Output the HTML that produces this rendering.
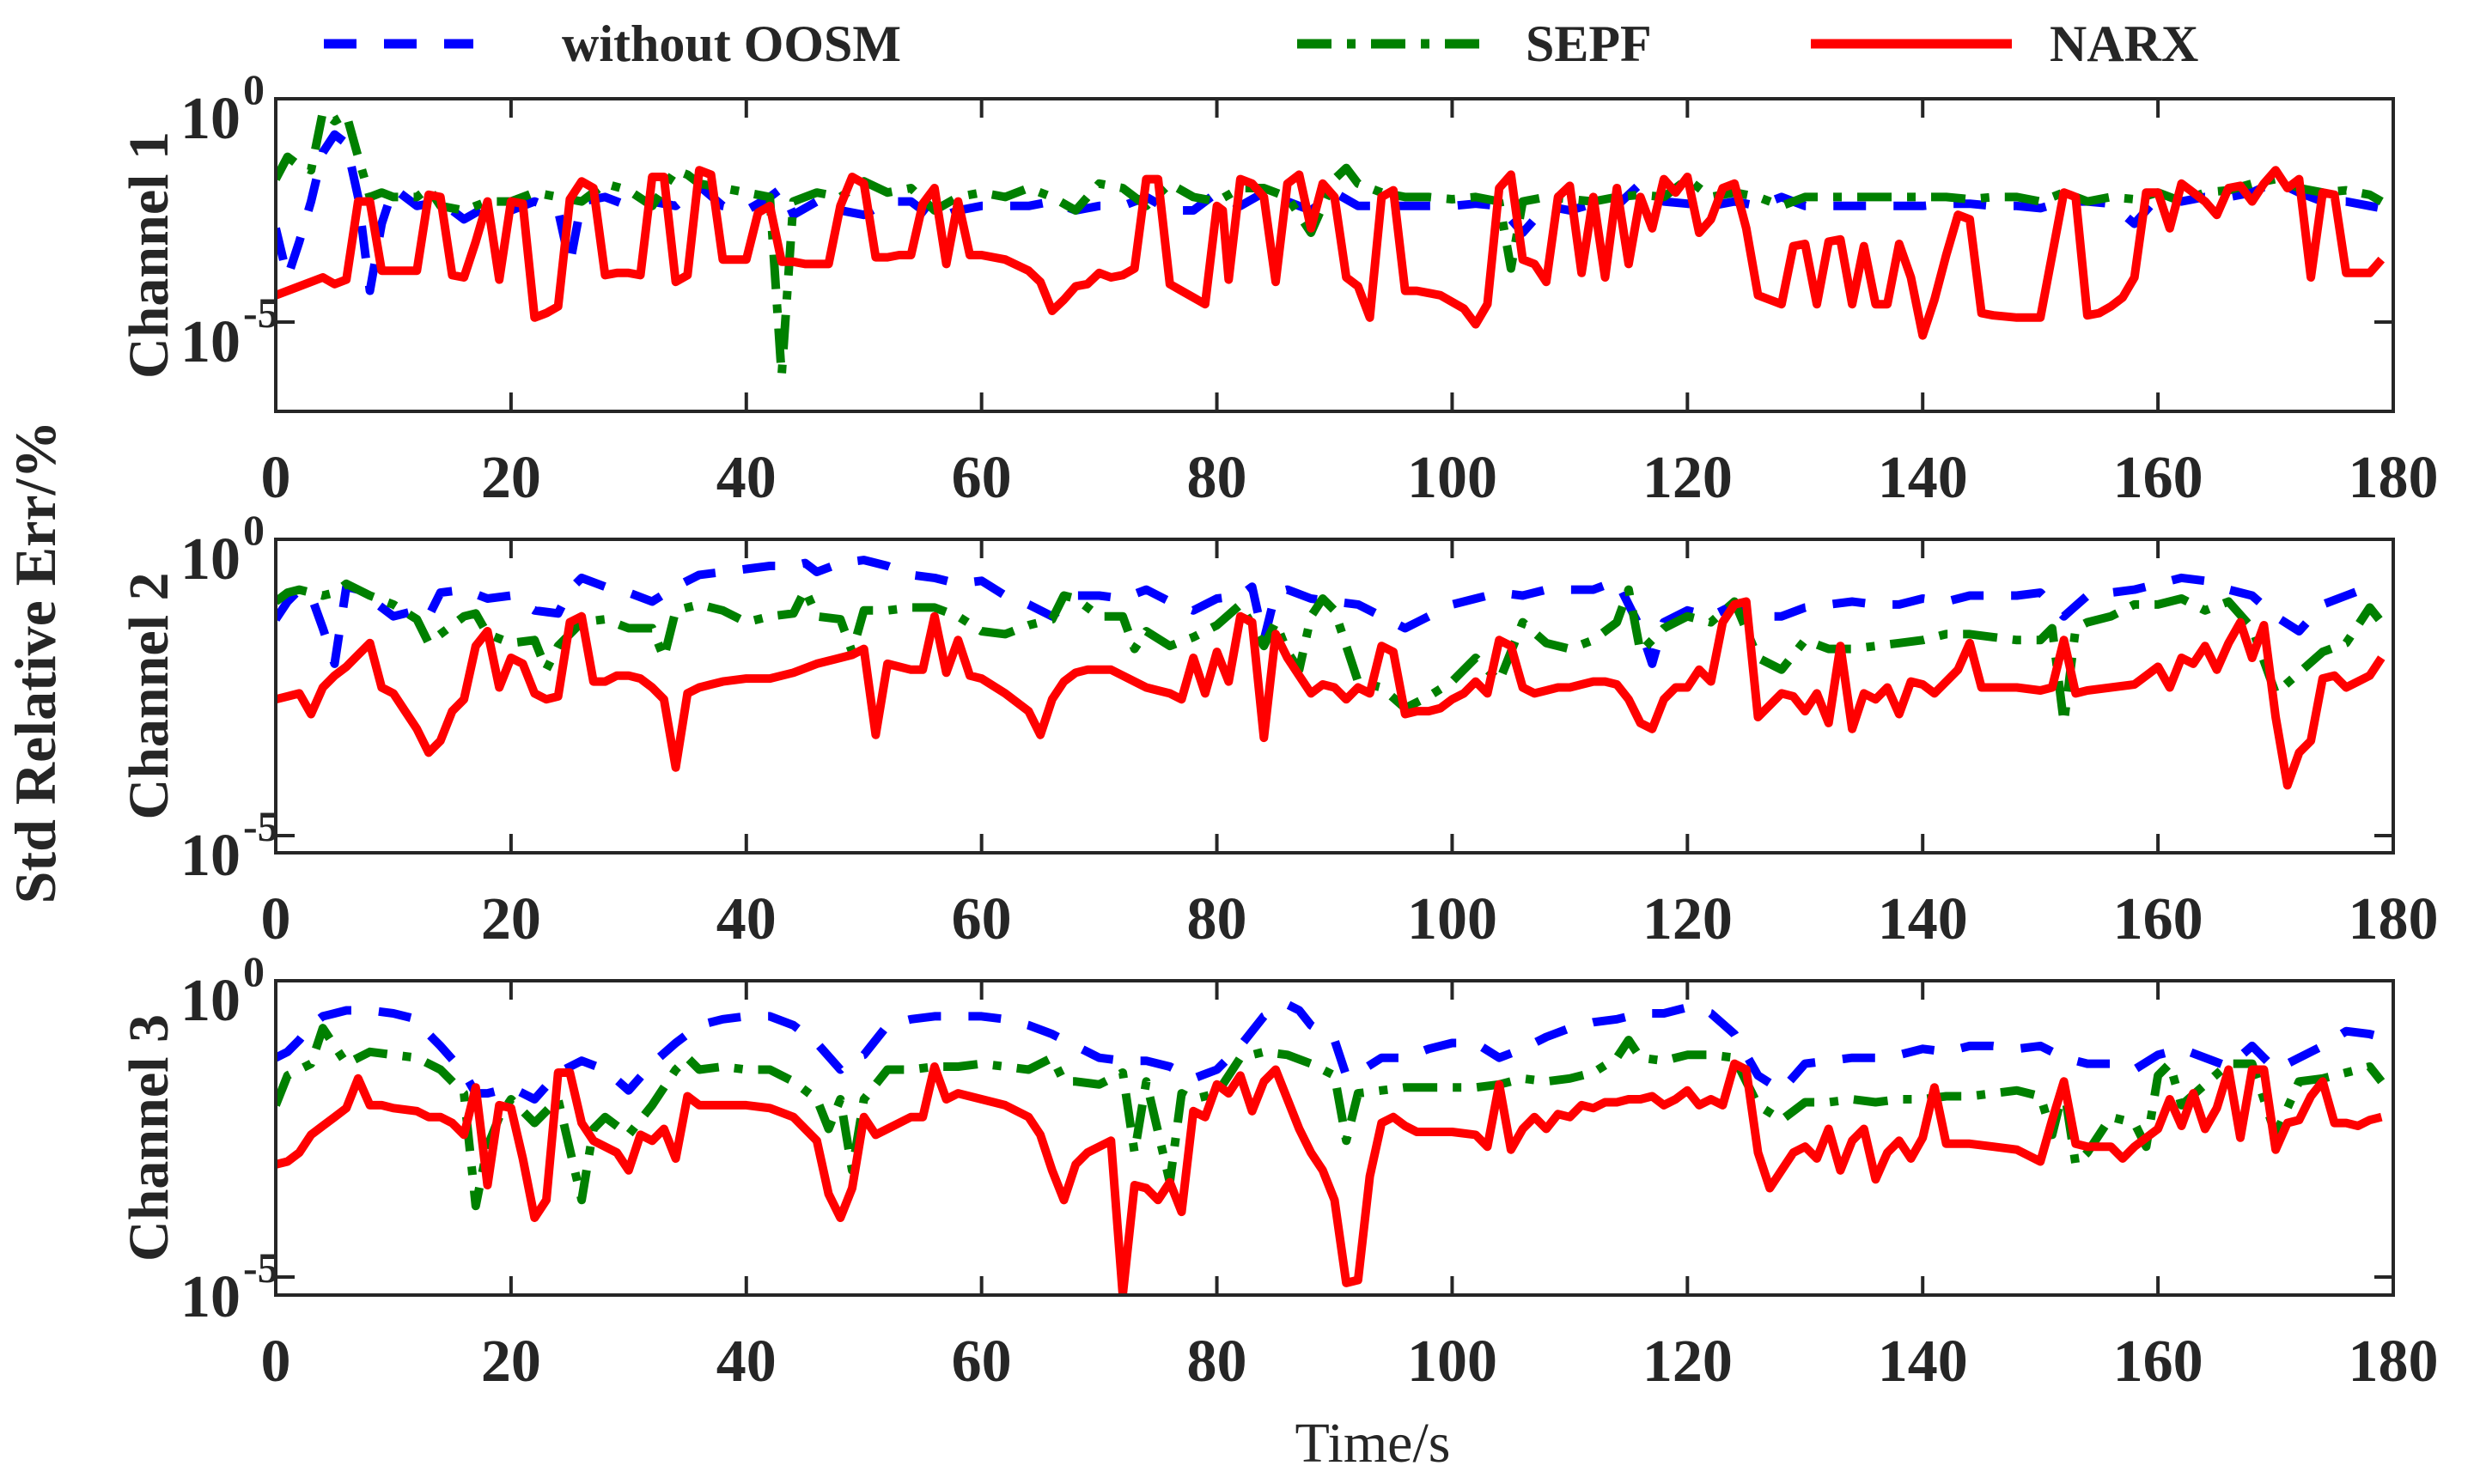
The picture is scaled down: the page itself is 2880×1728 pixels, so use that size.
<!DOCTYPE html>
<html><head><meta charset="utf-8"><style>
html,body{margin:0;padding:0;background:#fff;}
svg{display:block;font-family:"Liberation Serif",serif;}
</style></head><body>
<svg id="chart" xmlns="http://www.w3.org/2000/svg" width="2880" height="1728" viewBox="0 0 2880 1728">
<rect width="2880" height="1728" fill="#fff"/>
<g id="legend">
 <g>
  <line x1="377" y1="51" x2="551" y2="51" stroke="#0000ff" stroke-width="11" stroke-dasharray="38,32"/>
  <text x="654" y="71" font-size="60" font-weight="bold" fill="#262626">without OOSM</text>
 </g>
 <g>
  <line x1="1510" y1="51" x2="1736" y2="51" stroke="#008000" stroke-width="11" stroke-dasharray="40,18,10,18"/>
  <text x="1776" y="71" font-size="60" font-weight="bold" fill="#262626">SEPF</text>
 </g>
 <g>
  <line x1="2108" y1="51" x2="2342" y2="51" stroke="#ff0000" stroke-width="11"/>
  <text x="2386" y="71" font-size="60" font-weight="bold" fill="#262626">NARX</text>
 </g>
</g>
<text transform="translate(64,771) rotate(-90)" text-anchor="middle" font-size="68" font-weight="bold" fill="#262626">Std Relative Err/%</text>
<text x="1598" y="1702" text-anchor="middle" font-size="66" fill="#262626">Time/s</text>
<g id="panels"></g>
</svg>
<script>
// ---- data: [time (s), log10(value)] ----
const xTicks = [0,20,40,60,80,100,120,140,160,180];
const yTickExps = [0,-5];
const channelNames = ["Channel 1","Channel 2","Channel 3"];
const ch1Narx = [[0,-4.4],[2,-4.2],[4,-4.0],[5,-4.15],[6,-4.05],[7,-2.3],[8,-2.3],[9,-3.85],[12,-3.85],[13,-2.15],[14,-2.2],[15,-3.95],[16,-4.0],[17,-3.2],[18,-2.3],[19,-4.05],[20,-2.3],[21,-2.35],[22,-4.9],[23,-4.8],[24,-4.65],[25,-2.25],[26,-1.85],[27,-2.0],[28,-3.95],[29,-3.9],[30,-3.9],[31,-3.95],[32,-1.75],[33,-1.75],[34,-4.1],[35,-3.95],[36,-1.6],[37,-1.7],[38,-3.6],[39,-3.6],[40,-3.6],[41,-2.55],[42,-2.4],[43,-3.65],[44,-3.65],[45,-3.7],[47,-3.7],[48,-2.4],[49,-1.75],[50,-1.9],[51,-3.55],[52,-3.55],[53,-3.5],[54,-3.5],[55,-2.35],[56,-2.0],[57,-3.7],[58,-2.3],[59,-3.5],[60,-3.5],[62,-3.6],[64,-3.85],[65,-4.1],[66,-4.75],[67,-4.5],[68,-4.2],[69,-4.15],[70,-3.9],[71,-4.0],[72,-3.95],[73,-3.8],[74,-1.8],[75,-1.8],[76,-4.15],[77,-4.3],[78,-4.45],[79,-4.6],[80,-2.4],[80.5,-2.5],[81,-4.05],[82,-1.8],[83,-1.9],[84,-2.2],[85,-4.1],[86,-1.9],[87,-1.7],[88,-2.9],[89,-1.9],[90,-2.2],[91,-4.0],[92,-4.2],[93,-4.9],[94,-2.2],[95,-2.05],[96,-4.3],[97,-4.3],[98,-4.35],[99,-4.4],[100,-4.55],[101,-4.7],[102,-5.05],[103,-4.6],[104,-2.0],[105,-1.7],[106,-3.6],[107,-3.7],[108,-4.1],[109,-2.2],[110,-1.95],[111,-3.9],[112,-2.2],[113,-4.0],[114,-2.0],[115,-3.7],[116,-2.2],[117,-2.9],[118,-1.8],[119,-2.1],[120,-1.75],[121,-3.0],[122,-2.7],[123,-2.0],[124,-1.9],[125,-2.9],[126,-4.4],[127,-4.5],[128,-4.6],[129,-3.3],[130,-3.25],[131,-4.6],[132,-3.2],[133,-3.15],[134,-4.6],[135,-3.3],[136,-4.6],[137,-4.6],[138,-3.25],[139,-4.0],[140,-5.3],[141,-4.5],[142,-3.5],[143,-2.6],[144,-2.7],[145,-4.8],[146,-4.85],[148,-4.9],[150,-4.9],[151,-3.5],[152,-2.1],[153,-2.2],[154,-4.85],[155,-4.8],[156,-4.65],[157,-4.45],[158,-4.0],[159,-2.1],[160,-2.1],[161,-2.9],[162,-1.9],[163,-2.1],[164,-2.3],[165,-2.6],[166,-2.0],[167,-1.95],[168,-2.3],[169,-1.9],[170,-1.6],[171,-2.0],[172,-1.8],[173,-4.0],[174,-2.1],[175,-2.15],[176,-3.9],[177,-3.9],[178,-3.9],[179,-3.6]];
const ch1Base = [[0,-2.9],[1,-4.0],[2,-3.2],[3,-2.3],[4,-1.2],[5,-0.8],[6,-1.0],[7,-2.2],[8,-4.3],[9,-2.8],[10,-2.0],[11,-2.2],[12,-2.4],[14,-2.3],[16,-2.7],[18,-2.4],[20,-2.5],[22,-2.3],[24,-2.5],[25,-3.7],[26,-2.3],[28,-2.2],[30,-2.4],[32,-2.3],[34,-2.4],[36,-1.95],[38,-2.4],[40,-2.5],[42,-2.2],[43,-2.0],[44,-2.6],[46,-2.3],[48,-2.5],[50,-2.6],[52,-2.3],[54,-2.3],[56,-2.7],[58,-2.5],[60,-2.4],[62,-2.4],[64,-2.4],[66,-2.3],[68,-2.5],[70,-2.4],[72,-2.4],[74,-2.2],[76,-2.5],[78,-2.5],[80,-2.1],[82,-2.4],[84,-2.1],[86,-2.3],[88,-2.5],[90,-2.1],[92,-2.4],[94,-2.4],[96,-2.4],[98,-2.4],[100,-2.4],[102,-2.35],[104,-2.4],[106,-3.0],[108,-2.4],[110,-2.5],[112,-2.35],[114,-2.4],[116,-1.9],[118,-2.3],[120,-2.35],[122,-2.4],[124,-2.3],[126,-2.4],[128,-2.2],[130,-2.4],[132,-2.4],[134,-2.4],[136,-2.4],[138,-2.4],[140,-2.4],[142,-2.35],[144,-2.35],[146,-2.4],[148,-2.4],[150,-2.45],[152,-2.3],[154,-2.3],[156,-2.35],[158,-2.8],[160,-2.2],[162,-2.3],[164,-2.2],[166,-2.2],[168,-2.1],[170,-1.85],[172,-2.1],[174,-2.3],[176,-2.3],[178,-2.4],[179,-2.45]];
const ch1Sepf = [[0,-1.8],[1,-1.3],[2,-1.5],[3,-1.6],[4,-0.3],[5,-0.5],[6,-0.35],[7,-1.3],[8,-2.2],[9,-2.1],[10,-2.2],[12,-2.2],[13,-2.0],[14,-2.4],[16,-2.5],[18,-2.3],[20,-2.3],[22,-2.1],[24,-2.2],[26,-2.3],[28,-1.9],[30,-2.05],[32,-2.4],[34,-1.6],[35,-1.7],[36,-1.9],[38,-2.0],[40,-2.1],[42,-2.2],[43,-6.2],[44,-2.3],[46,-2.1],[48,-2.2],[50,-1.85],[52,-2.1],[54,-2.0],[56,-2.5],[58,-2.2],[60,-2.1],[62,-2.2],[64,-2.0],[66,-2.2],[68,-2.5],[70,-1.9],[72,-2.0],[74,-2.4],[76,-1.9],[78,-2.2],[80,-2.3],[82,-2.0],[84,-2.0],[86,-2.2],[88,-3.0],[90,-1.8],[91,-1.55],[92,-1.9],[94,-2.1],[96,-2.2],[98,-2.2],[100,-2.25],[102,-2.2],[104,-2.3],[105,-3.8],[106,-2.3],[108,-2.2],[110,-2.25],[112,-2.3],[114,-2.2],[116,-2.15],[118,-2.2],[120,-1.8],[122,-2.2],[124,-2.1],[126,-2.2],[128,-2.4],[130,-2.2],[132,-2.2],[134,-2.2],[136,-2.2],[138,-2.2],[140,-2.2],[142,-2.2],[144,-2.25],[146,-2.2],[148,-2.2],[150,-2.3],[152,-2.1],[154,-2.3],[156,-2.2],[158,-2.25],[160,-2.1],[162,-2.3],[164,-2.1],[166,-2.05],[168,-1.9],[170,-1.8],[172,-2.0],[174,-2.1],[176,-2.05],[178,-2.15],[179,-2.3]];
const ch2Narx = [[0,-2.7],[1,-2.65],[2,-2.6],[3,-2.95],[4,-2.5],[5,-2.3],[6,-2.15],[7,-1.95],[8,-1.75],[9,-2.5],[10,-2.6],[11,-2.9],[12,-3.2],[13,-3.6],[14,-3.4],[15,-2.9],[16,-2.7],[17,-1.8],[18,-1.55],[19,-2.5],[20,-2.0],[21,-2.1],[22,-2.6],[23,-2.7],[24,-2.65],[25,-1.4],[26,-1.3],[27,-2.4],[28,-2.4],[29,-2.3],[30,-2.3],[31,-2.35],[32,-2.5],[33,-2.7],[34,-3.85],[35,-2.6],[36,-2.5],[37,-2.45],[38,-2.4],[40,-2.35],[42,-2.35],[44,-2.25],[46,-2.1],[48,-2.0],[49,-1.95],[50,-1.85],[51,-3.3],[52,-2.1],[53,-2.15],[54,-2.2],[55,-2.2],[56,-1.3],[57,-2.25],[58,-1.7],[59,-2.3],[60,-2.35],[62,-2.6],[64,-2.9],[65,-3.3],[66,-2.7],[67,-2.4],[68,-2.25],[69,-2.2],[70,-2.2],[71,-2.2],[72,-2.3],[73,-2.4],[74,-2.5],[75,-2.55],[76,-2.6],[77,-2.7],[78,-2.0],[79,-2.6],[80,-1.9],[81,-2.4],[82,-1.3],[83,-1.4],[84,-3.35],[85,-1.6],[86,-2.0],[87,-2.3],[88,-2.6],[89,-2.45],[90,-2.5],[91,-2.7],[92,-2.5],[93,-2.6],[94,-1.8],[95,-1.9],[96,-2.95],[97,-2.9],[98,-2.9],[99,-2.85],[100,-2.7],[101,-2.6],[102,-2.4],[103,-2.6],[104,-1.7],[105,-1.8],[106,-2.5],[107,-2.6],[108,-2.55],[109,-2.5],[110,-2.5],[111,-2.45],[112,-2.4],[113,-2.4],[114,-2.45],[115,-2.7],[116,-3.1],[117,-3.2],[118,-2.7],[119,-2.5],[120,-2.5],[121,-2.2],[122,-2.4],[123,-1.4],[124,-1.1],[125,-1.05],[126,-3.0],[127,-2.8],[128,-2.6],[129,-2.65],[130,-2.9],[131,-2.6],[132,-3.1],[133,-1.8],[134,-3.2],[135,-2.6],[136,-2.7],[137,-2.5],[138,-2.95],[139,-2.4],[140,-2.45],[141,-2.6],[142,-2.4],[143,-2.2],[144,-1.75],[145,-2.5],[146,-2.5],[148,-2.5],[150,-2.55],[151,-2.5],[152,-1.7],[153,-2.6],[154,-2.55],[156,-2.5],[158,-2.45],[159,-2.3],[160,-2.15],[161,-2.5],[162,-2.0],[163,-2.1],[164,-1.8],[165,-2.2],[166,-1.75],[167,-1.4],[168,-2.0],[169,-1.45],[170,-3.0],[171,-4.15],[172,-3.6],[173,-3.4],[174,-2.35],[175,-2.3],[176,-2.5],[177,-2.4],[178,-2.3],[179,-2.0]];
const ch2Base = [[0,-1.35],[1,-1.05],[2,-0.85],[3,-0.95],[4,-1.5],[5,-2.1],[6,-0.8],[7,-0.85],[8,-1.0],[10,-1.3],[12,-1.2],[13,-1.3],[14,-0.9],[16,-0.85],[18,-1.0],[20,-0.95],[22,-1.2],[24,-1.25],[25,-0.85],[26,-0.65],[28,-0.8],[30,-0.9],[32,-1.05],[34,-0.8],[36,-0.6],[38,-0.55],[40,-0.5],[42,-0.45],[44,-0.45],[45,-0.4],[46,-0.55],[48,-0.4],[50,-0.35],[52,-0.45],[54,-0.6],[56,-0.65],[58,-0.75],[60,-0.7],[62,-0.95],[64,-1.1],[66,-1.3],[68,-0.95],[70,-0.95],[72,-1.0],[74,-0.85],[76,-1.05],[78,-1.2],[80,-1.0],[82,-0.95],[83,-0.8],[84,-1.7],[85,-0.9],[86,-0.85],[88,-1.0],[90,-1.05],[92,-1.1],[94,-1.3],[96,-1.5],[98,-1.3],[100,-1.1],[102,-1.0],[104,-0.9],[106,-0.95],[108,-0.85],[110,-0.85],[112,-0.85],[114,-0.7],[116,-1.5],[117,-2.1],[118,-1.4],[120,-1.2],[122,-1.3],[124,-1.1],[126,-1.3],[128,-1.3],[130,-1.15],[132,-1.1],[134,-1.05],[136,-1.1],[138,-1.1],[140,-1.0],[142,-1.05],[144,-0.95],[146,-0.95],[148,-0.95],[150,-0.9],[152,-1.3],[154,-0.95],[156,-0.9],[158,-0.85],[160,-0.75],[162,-0.65],[164,-0.7],[166,-0.85],[168,-0.95],[170,-1.3],[172,-1.55],[174,-1.1],[176,-0.95],[178,-0.8],[179,-0.75]];
const ch2Sepf = [[0,-1.05],[1,-0.9],[2,-0.85],[4,-0.95],[5,-0.9],[6,-0.75],[8,-0.95],[10,-1.1],[12,-1.35],[13,-1.75],[14,-1.6],[16,-1.3],[17,-1.25],[18,-1.6],[20,-1.75],[22,-1.7],[23,-2.2],[24,-1.8],[26,-1.4],[28,-1.35],[30,-1.5],[32,-1.5],[33,-2.0],[34,-1.2],[36,-1.1],[38,-1.2],[40,-1.4],[42,-1.3],[44,-1.25],[45,-0.85],[46,-1.3],[48,-1.35],[49,-1.9],[50,-1.2],[52,-1.2],[54,-1.15],[56,-1.15],[58,-1.3],[60,-1.55],[62,-1.6],[64,-1.45],[66,-1.35],[67,-0.95],[68,-1.0],[70,-1.3],[72,-1.3],[73,-1.85],[74,-1.55],[76,-1.8],[78,-1.65],[80,-1.45],[82,-1.1],[84,-1.8],[85,-1.4],[86,-1.9],[87,-2.2],[88,-1.3],[89,-1.0],[90,-1.2],[92,-2.4],[94,-2.5],[96,-2.85],[98,-2.65],[100,-2.4],[102,-2.0],[104,-2.4],[106,-1.4],[108,-1.75],[110,-1.85],[112,-1.7],[114,-1.4],[115,-0.85],[116,-1.9],[118,-1.5],[120,-1.3],[122,-1.4],[124,-1.05],[126,-2.0],[128,-2.2],[130,-1.7],[132,-1.85],[134,-1.85],[136,-1.8],[138,-1.75],[140,-1.7],[142,-1.6],[144,-1.6],[146,-1.65],[148,-1.7],[150,-1.7],[151,-1.5],[152,-3.1],[153,-1.5],[154,-1.4],[156,-1.3],[158,-1.1],[160,-1.1],[162,-1.0],[164,-1.2],[166,-1.05],[168,-1.5],[170,-2.6],[172,-2.25],[174,-1.9],[176,-1.75],[178,-1.15],[179,-1.4]];
const ch3Narx = [[0,-3.1],[1,-3.05],[2,-2.9],[3,-2.6],[4,-2.45],[5,-2.3],[6,-2.15],[7,-1.65],[8,-2.1],[9,-2.1],[10,-2.15],[12,-2.2],[13,-2.3],[14,-2.3],[15,-2.4],[16,-2.6],[17,-1.8],[18,-3.45],[19,-2.1],[20,-2.15],[21,-3.0],[22,-4.0],[23,-3.7],[24,-1.55],[25,-1.55],[26,-2.4],[27,-2.7],[28,-2.8],[29,-2.9],[30,-3.2],[31,-2.6],[32,-2.7],[33,-2.5],[34,-3.0],[35,-1.95],[36,-2.1],[37,-2.1],[38,-2.1],[40,-2.1],[42,-2.15],[44,-2.3],[46,-2.7],[47,-3.6],[48,-4.0],[49,-3.5],[50,-2.3],[51,-2.6],[52,-2.5],[54,-2.3],[55,-2.3],[56,-1.45],[57,-2.0],[58,-1.9],[60,-2.0],[62,-2.1],[64,-2.3],[65,-2.6],[66,-3.2],[67,-3.7],[68,-3.1],[69,-2.9],[70,-2.8],[71,-2.7],[72,-5.3],[73,-3.45],[74,-3.5],[75,-3.7],[76,-3.4],[77,-3.9],[78,-2.2],[79,-2.3],[80,-1.75],[81,-1.9],[82,-1.6],[83,-2.2],[84,-1.7],[85,-1.5],[86,-2.0],[87,-2.5],[88,-2.9],[89,-3.2],[90,-3.7],[91,-5.1],[92,-5.05],[93,-3.3],[94,-2.4],[95,-2.3],[96,-2.45],[97,-2.55],[98,-2.55],[100,-2.55],[102,-2.6],[103,-2.8],[104,-1.75],[105,-2.85],[106,-2.5],[107,-2.3],[108,-2.5],[109,-2.25],[110,-2.3],[111,-2.1],[112,-2.15],[113,-2.05],[114,-2.05],[115,-2.0],[116,-2.0],[117,-1.95],[118,-2.1],[119,-2.0],[120,-1.85],[121,-2.1],[122,-2.0],[123,-2.1],[124,-1.4],[125,-1.5],[126,-2.9],[127,-3.5],[128,-3.2],[129,-2.9],[130,-2.8],[131,-3.0],[132,-2.5],[133,-3.2],[134,-2.7],[135,-2.5],[136,-3.35],[137,-2.9],[138,-2.7],[139,-3.0],[140,-2.65],[141,-1.8],[142,-2.75],[144,-2.75],[146,-2.8],[148,-2.85],[150,-3.05],[151,-2.35],[152,-1.7],[153,-2.75],[154,-2.8],[156,-2.8],[157,-3.0],[158,-2.8],[159,-2.65],[160,-2.5],[161,-2.0],[162,-2.45],[163,-1.9],[164,-2.5],[165,-2.15],[166,-1.5],[167,-2.65],[168,-1.5],[169,-1.5],[170,-2.85],[171,-2.4],[172,-2.35],[173,-1.95],[174,-1.7],[175,-2.4],[176,-2.4],[177,-2.45],[178,-2.35],[179,-2.3]];
const ch3Base = [[0,-1.3],[1,-1.2],[2,-1.0],[3,-0.75],[4,-0.6],[5,-0.55],[6,-0.5],[8,-0.5],[10,-0.55],[12,-0.65],[13,-0.9],[14,-1.1],[16,-1.55],[17,-1.9],[18,-1.9],[20,-1.8],[22,-2.0],[24,-1.55],[26,-1.35],[28,-1.5],[30,-1.85],[32,-1.4],[34,-1.05],[36,-0.75],[38,-0.65],[40,-0.6],[42,-0.6],[44,-0.75],[46,-1.05],[48,-1.5],[49,-1.3],[50,-1.25],[52,-0.75],[54,-0.65],[56,-0.6],[58,-0.6],[60,-0.6],[62,-0.65],[64,-0.75],[66,-0.9],[68,-1.1],[70,-1.3],[72,-1.35],[74,-1.35],[76,-1.45],[78,-1.65],[80,-1.5],[82,-1.1],[84,-0.6],[86,-0.4],[87,-0.5],[88,-0.75],[90,-1.0],[91,-1.6],[92,-1.55],[94,-1.3],[96,-1.3],[98,-1.15],[100,-1.05],[102,-1.05],[104,-1.3],[106,-1.15],[108,-0.95],[110,-0.8],[112,-0.7],[114,-0.65],[116,-0.55],[118,-0.55],[120,-0.45],[122,-0.55],[124,-0.9],[126,-1.6],[128,-1.85],[130,-1.4],[132,-1.35],[134,-1.3],[136,-1.3],[138,-1.25],[140,-1.15],[142,-1.2],[144,-1.1],[146,-1.1],[148,-1.15],[150,-1.1],[152,-1.3],[154,-1.4],[156,-1.4],[158,-1.5],[160,-1.25],[162,-1.15],[164,-1.3],[166,-1.45],[168,-1.1],[170,-1.5],[172,-1.3],[174,-1.1],[176,-0.85],[178,-0.9],[179,-0.95]];
const ch3Sepf = [[0,-2.1],[1,-1.6],[2,-1.5],[3,-1.4],[4,-0.8],[5,-1.1],[6,-1.4],[8,-1.2],[10,-1.25],[12,-1.3],[14,-1.5],[16,-1.9],[17,-3.8],[18,-2.8],[19,-2.3],[20,-2.0],[22,-2.4],[24,-2.0],[26,-3.7],[27,-2.5],[28,-2.3],[30,-2.6],[32,-2.1],[34,-1.5],[35,-1.3],[36,-1.5],[38,-1.45],[40,-1.5],[42,-1.5],[44,-1.7],[46,-2.0],[47,-2.5],[48,-2.0],[49,-3.2],[50,-2.0],[52,-1.5],[54,-1.5],[56,-1.45],[58,-1.45],[60,-1.4],[62,-1.45],[64,-1.5],[66,-1.3],[67,-1.7],[68,-1.7],[70,-1.75],[72,-1.55],[73,-2.9],[74,-1.7],[76,-3.4],[77,-1.9],[78,-2.0],[80,-1.9],[81,-1.6],[82,-1.3],[84,-1.2],[86,-1.25],[88,-1.4],[90,-1.6],[91,-2.7],[92,-1.9],[94,-1.85],[96,-1.8],[98,-1.8],[100,-1.8],[102,-1.8],[104,-1.75],[106,-1.65],[108,-1.7],[110,-1.65],[112,-1.55],[114,-1.3],[115,-1.0],[116,-1.3],[118,-1.35],[120,-1.25],[122,-1.25],[124,-1.3],[126,-2.1],[128,-2.35],[130,-2.05],[132,-2.05],[134,-2.0],[136,-2.05],[138,-2.0],[140,-2.0],[142,-1.95],[144,-1.95],[146,-1.9],[148,-1.85],[150,-1.95],[151,-2.6],[152,-1.8],[153,-3.1],[154,-2.9],[156,-2.3],[158,-2.4],[159,-2.8],[160,-1.6],[161,-1.4],[162,-2.1],[164,-1.75],[166,-1.4],[168,-1.4],[170,-2.6],[172,-1.7],[174,-1.65],[176,-1.55],[178,-1.45],[179,-1.7]];

const NS = "http://www.w3.org/2000/svg";
const X0 = 321, X1 = 2786;
const panelTops = [115, 628, 1142];
const panelBottoms = [479, 993, 1508];
const decadePx = [52, 69, 69];
const series = [[ch1Base, ch1Sepf, ch1Narx],[ch2Base, ch2Sepf, ch2Narx],[ch3Base, ch3Sepf, ch3Narx]];
const seriesNames = ["without-oosm","sepf","narx"];
const seriesColors = ["#0000ff","#008000","#ff0000"];
const seriesDash = ["38,32","40,18,10,18",""];
function xScale(t){ return X0 + (X1 - X0) * t / 180; }
function mk(tag, attrs, parent){ const e = document.createElementNS(NS, tag); for (const k in attrs) e.setAttribute(k, attrs[k]); parent.appendChild(e); return e; }
const root = document.getElementById("panels");
for (let p = 0; p < 3; p++) {
  const top = panelTops[p], bot = panelBottoms[p], dec = decadePx[p];
  const yScale = e => top - e * dec;
  const g = mk("g", {}, root);
  
  
  const clipId = "clip" + p;
  const cp = mk("clipPath", {id: clipId}, g);
  mk("rect", {x: X0, y: top, width: X1 - X0, height: bot - top}, cp);
  const lines = mk("g", {"clip-path": "url(#" + clipId + ")"}, g);
  for (let s = 0; s < 3; s++) {
    const d = series[p][s].map((pt, i) => (i ? "L" : "M") + xScale(pt[0]).toFixed(1) + "," + yScale(pt[1]).toFixed(1)).join("");
    const path = mk("path", {d: d, fill: "none", stroke: seriesColors[s], "stroke-width": 10, "stroke-linejoin": "round"}, lines);
    if (seriesDash[s]) path.setAttribute("stroke-dasharray", seriesDash[s]);
    
    
  }
  const box = mk("rect", {x: X0, y: top, width: X1 - X0, height: bot - top, fill: "none", stroke: "#262626", "stroke-width": 4}, g);
  
  
  xTicks.forEach(t => {
    const x = xScale(t);
    mk("line", {x1: x, y1: bot, x2: x, y2: bot - 22, stroke: "#262626", "stroke-width": 4}, g);
    mk("line", {x1: x, y1: top, x2: x, y2: top + 22, stroke: "#262626", "stroke-width": 4}, g);
    const lab = mk("text", {x: x, y: bot + 100, "text-anchor": "middle", "font-size": 70, "font-weight": "bold", fill: "#262626"}, g);
    lab.textContent = t;
    
    
  });
  yTickExps.forEach(e => {
    const y = yScale(e);
    mk("line", {x1: X0, y1: y, x2: X0 + 22, y2: y, stroke: "#262626", "stroke-width": 4}, g);
    mk("line", {x1: X1, y1: y, x2: X1 - 22, y2: y, stroke: "#262626", "stroke-width": 4}, g);
    const lab = mk("text", {x: 280, y: y + 46, "text-anchor": "end", "font-size": 70, "font-weight": "bold", fill: "#262626"}, g);
    lab.textContent = "10";
    
    
    const sup = mk("text", {x: 283, y: y + 6, "font-size": 50, "font-weight": "bold", fill: "#262626"}, g);
    sup.textContent = e === 0 ? "0" : "-5";
    
    
  });
  const cy = (top + bot) / 2;
  const cl = mk("text", {transform: "translate(195," + cy + ") rotate(-90)", "text-anchor": "middle", "font-size": 66, "font-weight": "bold", fill: "#262626"}, g);
  cl.textContent = channelNames[p];
  
  
}
</script>
</body></html>
